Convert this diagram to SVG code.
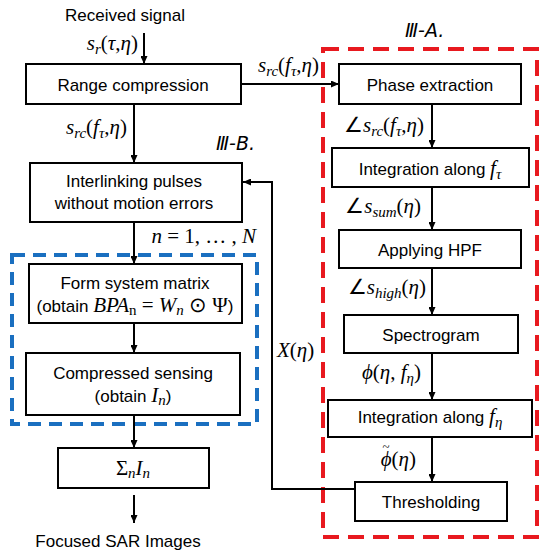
<svg xmlns="http://www.w3.org/2000/svg" width="550" height="557" viewBox="0 0 550 557">
<defs>
<marker id="ah" viewBox="0 0 8 7" refX="8" refY="3.5" markerWidth="8" markerHeight="7" markerUnits="userSpaceOnUse" orient="auto">
<path d="M0,0 L8,3.5 L0,7 z" fill="#000"/>
</marker>
<style>
.box{fill:#fff;stroke:#000;stroke-width:2}
.t{font-family:"Liberation Sans",Arial,sans-serif;font-size:17px;fill:#000;text-anchor:middle}
.m{font-family:"Liberation Serif","Times New Roman",serif;font-size:21px;fill:#000}
.i{font-style:italic}
.s{font-size:15px;font-style:italic}
.su{font-size:15px}
.c{stroke:#000;stroke-width:2;fill:none}
.ca{stroke:#000;stroke-width:2;fill:none;marker-end:url(#ah)}
.sec{font-family:"DejaVu Sans","Liberation Sans",sans-serif;font-size:19px;font-style:italic;fill:#000}
</style>
</defs>
<rect x="12" y="255" width="245" height="169" fill="none" stroke="#1a6fc0" stroke-width="4" stroke-dasharray="13,8"/>
<rect x="323" y="49" width="214" height="488" fill="none" stroke="#e8191f" stroke-width="4" stroke-dasharray="16,9"/>
<g id="connectors">
<line class="ca" x1="144" y1="33" x2="144" y2="64"/>
<line class="ca" x1="134" y1="104" x2="134" y2="163"/>
<line class="ca" x1="241" y1="84" x2="339" y2="84"/>
<line class="ca" x1="134" y1="222" x2="134" y2="264"/>
<line class="ca" x1="134" y1="323" x2="134" y2="353"/>
<line class="ca" x1="134" y1="415" x2="134" y2="448"/>
<line class="ca" x1="134" y1="495" x2="134" y2="523"/>
<line class="ca" x1="432" y1="104" x2="432" y2="148"/>
<line class="ca" x1="432" y1="187" x2="432" y2="230"/>
<line class="ca" x1="432" y1="268" x2="432" y2="315"/>
<line class="ca" x1="432" y1="353" x2="432" y2="400"/>
<line class="ca" x1="432" y1="437" x2="432" y2="482"/>
<polyline class="ca" points="355,489 272,489 272,182 243,182"/>
<text class="m" x="138" y="50" text-anchor="end"><tspan class="i">s</tspan><tspan class="s" dy="4">r</tspan><tspan dy="-4">(</tspan><tspan class="i">τ</tspan>,<tspan class="i">η</tspan>)</text>
<text class="m" x="127" y="134" text-anchor="end"><tspan class="i">s</tspan><tspan class="s" dy="4">rc</tspan><tspan dy="-4">(</tspan><tspan class="i">f</tspan><tspan class="s" dy="4">τ</tspan><tspan dy="-4">,</tspan><tspan class="i">η</tspan>)</text>
<text class="m" x="319" y="72" text-anchor="end"><tspan class="i">s</tspan><tspan class="s" dy="4">rc</tspan><tspan dy="-4">(</tspan><tspan class="i">f</tspan><tspan class="s" dy="4">τ</tspan><tspan dy="-4">,</tspan><tspan class="i">η</tspan>)</text>
<text class="m" x="256" y="243" text-anchor="end"><tspan class="i">n</tspan> = 1, … , <tspan class="i">N</tspan></text>
<text class="m" x="277" y="357"><tspan class="i">X</tspan>(<tspan class="i">η</tspan>)</text>
<text class="m" x="424" y="132" text-anchor="end">∠<tspan class="i">s</tspan><tspan class="s" dy="4">rc</tspan><tspan dy="-4">(</tspan><tspan class="i">f</tspan><tspan class="s" dy="4">τ</tspan><tspan dy="-4">,</tspan><tspan class="i">η</tspan>)</text>
<text class="m" x="421" y="213" text-anchor="end">∠<tspan class="i">s</tspan><tspan class="s" dy="4">sum</tspan><tspan dy="-4">(</tspan><tspan class="i">η</tspan>)</text>
<text class="m" x="426" y="294" text-anchor="end">∠<tspan class="i">s</tspan><tspan class="s" dy="4">high</tspan><tspan dy="-4">(</tspan><tspan class="i">η</tspan>)</text>
<text class="m" x="421" y="379" text-anchor="end"><tspan class="i">ϕ</tspan>(<tspan class="i">η</tspan>, <tspan class="i">f</tspan><tspan class="s" dy="4">η</tspan><tspan dy="-4">)</tspan></text>
<text class="m" x="416" y="466" text-anchor="end"><tspan class="i">ϕ</tspan><tspan font-size="13" dx="-9" dy="-15">~</tspan><tspan dx="2" dy="15">(</tspan><tspan class="i">η</tspan>)</text>
</g>
<text class="t" x="125" y="21">Received signal</text>
<text class="sec" x="216" y="150">Ⅲ-B.</text>
<text class="sec" x="405" y="37">Ⅲ-A.</text>
<g id="range"><rect class="box" x="26" y="64" width="215" height="40"/><text class="t" x="133" y="91">Range compression</text></g>
<g id="interlink"><rect class="box" x="30" y="163" width="212" height="59"/><text class="t" x="134" y="187">Interlinking pulses</text><text class="t" x="134" y="209">without motion errors</text></g>
<g id="formmatrix"><rect class="box" x="29" y="264" width="213" height="59"/><text class="t" x="135" y="289">Form system matrix</text><text class="t" x="135" y="312">(obtain <tspan class="m i" font-size="18">BPA</tspan><tspan class="m su" font-size="14" dy="3">n</tspan><tspan class="m" font-size="18" dy="-3"> = </tspan><tspan class="m i" font-size="18">W</tspan><tspan class="m s" font-size="14" dy="3">n</tspan><tspan class="m" font-size="18" dy="-3"> ⊙ Ψ</tspan>)</text></g>
<g id="cs"><rect class="box" x="26" y="353" width="214" height="62"/><text class="t" x="133" y="379">Compressed sensing</text><text class="t" x="133" y="402">(obtain <tspan class="m i" font-size="19">I</tspan><tspan class="m s" font-size="14" dy="3">n</tspan><tspan dy="-3">)</tspan></text></g>
<g id="sum"><rect class="box" x="58" y="448" width="151" height="40"/><text class="m" x="133" y="475" text-anchor="middle">Σ<tspan class="s" dy="3">n</tspan><tspan class="i" dy="-3">I</tspan><tspan class="s" dy="3">n</tspan></text></g>
<text class="t" x="118" y="547">Focused SAR Images</text>
<g id="phase"><rect class="box" x="339" y="64" width="182" height="40"/><text class="t" x="430" y="91">Phase extraction</text></g>
<g id="intftau"><rect class="box" x="332" y="148" width="197" height="39"/><text class="t" x="430" y="175">Integration along <tspan class="m i" font-size="20">f</tspan><tspan class="m s" font-size="14" dy="4">τ</tspan></text></g>
<g id="hpf"><rect class="box" x="339" y="230" width="182" height="38"/><text class="t" x="430" y="256">Applying HPF</text></g>
<g id="spectro"><rect class="box" x="344" y="315" width="174" height="38"/><text class="t" x="431" y="341">Spectrogram</text></g>
<g id="intfeta"><rect class="box" x="328" y="400" width="204" height="37"/><text class="t" x="430" y="423">Integration along <tspan class="m i" font-size="20">f</tspan><tspan class="m s" font-size="14" dy="4">η</tspan></text></g>
<g id="thresh"><rect class="box" x="355" y="482" width="152" height="39"/><text class="t" x="431" y="508">Thresholding</text></g>
</svg>
